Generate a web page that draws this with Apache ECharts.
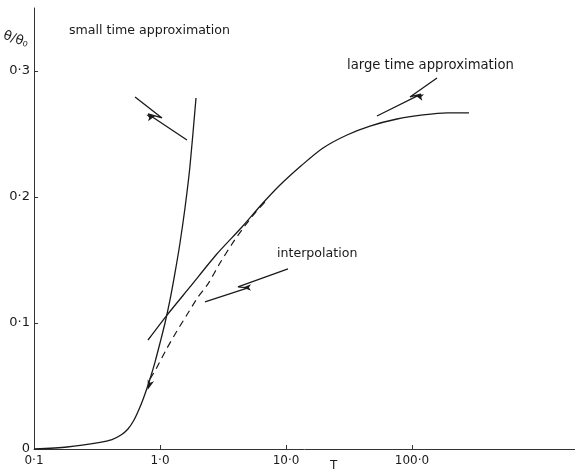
<!DOCTYPE html>
<html>
<head>
<meta charset="utf-8">
<script src="https://cdn.jsdelivr.net/npm/echarts@6/dist/echarts.min.js"></script>
<style>
html,body{margin:0;padding:0;background:#fff;}
#c{width:575px;height:472px;}
</style>
</head>
<body>
<div id="c"></div>
<script>
// ---- data (T, theta/theta0) ----
var xTicks = [0.1, 1, 10, 100];
var xTickLabels = ['0·1', '1·0', '10·0', '100·0'];
var yTicks = [0, 0.1, 0.2, 0.3];
var yTickLabels = ['0', '0·1', '0·2', '0·3'];

var smallT = [0.1, 0.183, 0.334, 0.416, 0.490, 0.557, 0.622, 0.694, 0.760, 0.833, 0.913, 1.0, 1.096, 1.2005, 1.315, 1.441, 1.579, 1.730, 1.931];
var smallV = [0, 0.0016, 0.0052, 0.0075, 0.0111, 0.0159, 0.0230, 0.0333, 0.0437, 0.0556, 0.0690, 0.0841, 0.1, 0.1183, 0.1397, 0.1635, 0.1913, 0.2246, 0.2786];

var largeT = [0.803, 1.137, 1.730, 2.783, 4.475, 6.451, 8.963, 13.4, 19.67, 30.49, 46.42, 76.03, 122.3, 189.6, 283.4];
var largeV = [0.0865, 0.1063, 0.1286, 0.1540, 0.1762, 0.1944, 0.2095, 0.2254, 0.2389, 0.2492, 0.2563, 0.2619, 0.2651, 0.2667, 0.2667];

var interpT = [0.833, 0.930, 1.116, 1.364, 1.668, 2.002, 2.404, 2.994, 3.728, 4.642, 5.675, 6.813];
var interpV = [0.0556, 0.0635, 0.0786, 0.0937, 0.1079, 0.1206, 0.1310, 0.1476, 0.1627, 0.1762, 0.1873, 0.1960];

// annotation pointer lines (zig-zag arrows), in data coordinates
var arrowSmallT = [0.634, 1.037, 0.803, 1.637];
var arrowSmallV = [0.2794, 0.2627, 0.2659, 0.2452];
var arrowLargeT = [158, 96.4, 117.8, 52.7];
var arrowLargeV = [0.2944, 0.2794, 0.2817, 0.2643];
var arrowInterpT = [10.37, 4.16, 4.99, 2.275];
var arrowInterpV = [0.1429, 0.1286, 0.1278, 0.1167];

function zip(a, b) { return a.map(function (v, i) { return [v, b[i]]; }); }

var ink = '#1a1a1a';
var font = 'DejaVu Sans';

var chart = echarts.init(document.getElementById('c'), null, {renderer: 'canvas'});

function lineSeries(t, v, opts) {
  var s = {
    type: 'line',
    data: zip(t, v),
    showSymbol: false,
    symbol: 'none',
    smooth: 0.25,
    silent: true,
    animation: false,
    lineStyle: {color: ink, width: 1.3, type: 'solid'}
  };
  for (var k in opts) s[k] = opts[k];
  return s;
}

// arrow head at the kink of a zig-zag pointer (midpoint of its 2nd segment)
function kinkHead(t, v, rot) {
  return {
    silent: true,
    symbol: 'arrow', symbolSize: [5, 8], symbolRotate: rot,
    itemStyle: {color: ink},
    label: {show: false},
    data: [{coord: [Math.sqrt(t[1] * t[2]), (v[1] + v[2]) / 2]}]
  };
}

var option = {
  backgroundColor: '#fff',
  animation: false,
  grid: {left: 34, right: 0, top: 8, bottom: 23, containLabel: false},
  xAxis: {
    type: 'log',
    logBase: 10,
    min: 0.1,
    max: 1967,
    splitLine: {show: false},
    axisLine: {lineStyle: {color: '#333', width: 1}},
    axisTick: {inside: true, length: 4, lineStyle: {color: '#333'}, customValues: xTicks},
    minorTick: {show: false},
    axisLabel: {
      customValues: xTicks,
      color: ink, fontFamily: font, fontSize: 12, margin: 6,
      formatter: function (v) {
        for (var i = 0; i < xTicks.length; i++) if (Math.abs(v - xTicks[i]) < 1e-6 * xTicks[i]) return xTickLabels[i];
        return '';
      }
    }
  },
  yAxis: {
    type: 'value',
    min: 0,
    max: 0.35,
    splitLine: {show: false},
    axisLine: {show: true, lineStyle: {color: '#333', width: 1}},
    axisTick: {show: true, inside: true, length: 4, lineStyle: {color: '#333'}, customValues: yTicks},
    axisLabel: {
      customValues: yTicks,
      color: ink, fontFamily: font, fontSize: 13, margin: 4,
      formatter: function (v) {
        for (var i = 0; i < yTicks.length; i++) if (Math.abs(v - yTicks[i]) < 1e-9) return yTickLabels[i];
        return '';
      }
    }
  },
  series: [
    lineSeries(smallT, smallV, {
      markPoint: {
        silent: true,
        symbol: 'arrow', symbolSize: [5, 10], symbolRotate: 162,
        itemStyle: {color: ink},
        label: {show: false},
        data: [{coord: [0.80, 0.047]}]
      }
    }),
    lineSeries(largeT, largeV, {}),
    lineSeries(interpT, interpV, {lineStyle: {color: ink, width: 1.2, type: [7, 5]}}),
    lineSeries(arrowSmallT, arrowSmallV, {smooth: false, lineStyle: {color: ink, width: 1.3}, markPoint: kinkHead(arrowSmallT, arrowSmallV, -75)}),
    lineSeries(arrowLargeT, arrowLargeV, {smooth: false, lineStyle: {color: ink, width: 1.3}, markPoint: kinkHead(arrowLargeT, arrowLargeV, 75)}),
    lineSeries(arrowInterpT, arrowInterpV, {smooth: false, lineStyle: {color: ink, width: 1.3}, markPoint: kinkHead(arrowInterpT, arrowInterpV, 90)})
  ],
  graphic: [
    {type: 'text', left: 69, top: 24, style: {text: 'small time approximation', font: '12.6px "DejaVu Sans"', fill: ink}},
    {type: 'text', left: 347, top: 59, style: {text: 'large time approximation', font: '13.2px "DejaVu Sans"', fill: ink}},
    {type: 'text', left: 277, top: 247, style: {text: 'interpolation', font: '12.6px "DejaVu Sans"', fill: ink}},
    {type: 'text', x: 6, y: 29, rotation: -0.35, style: {text: 'θ/θ₀', font: '13px "DejaVu Sans"', fill: ink}},
    {type: 'text', left: 330, top: 460, style: {text: 'T', font: '12px "DejaVu Sans"', fill: ink}}
  ]
};
chart.setOption(option);
</script>
</body>
</html>
